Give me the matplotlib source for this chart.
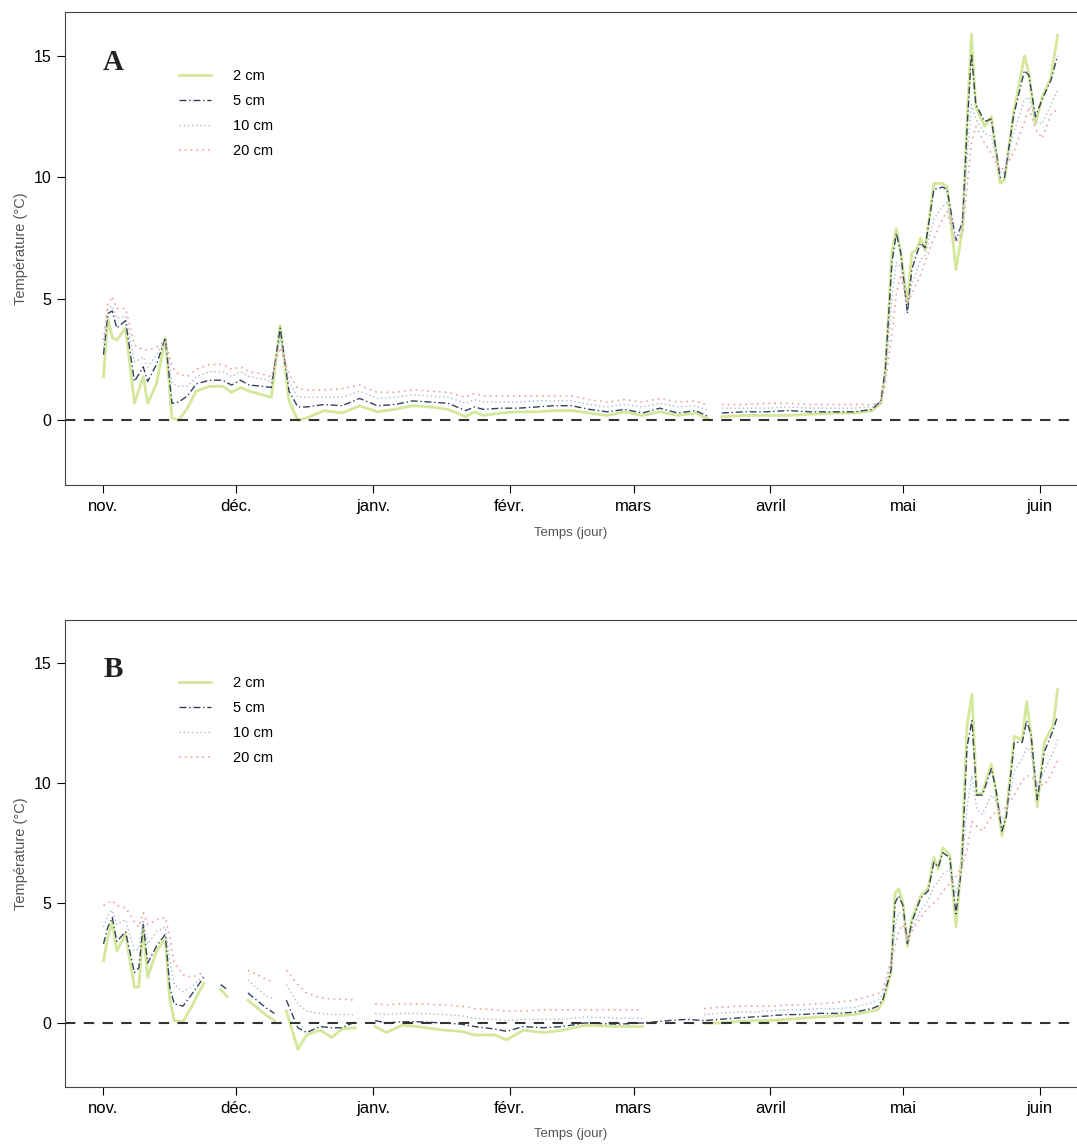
import numpy as np
import matplotlib
matplotlib.use("Agg")
import matplotlib.pyplot as plt

nan = np.nan

# Mois (jour depuis le 1er novembre)
mois_pos = [0, 30, 61, 92, 120, 151, 181, 212]
mois_noms = ['nov.', 'déc.', 'janv.', 'févr.', 'mars', 'avril', 'mai', 'juin']
profondeurs = ['2 cm', '5 cm', '10 cm', '20 cm']

# Panneau A
jours_a = [0, 1, 2, 3, 5, 7, 9, 10, 12, 14, 15.5, 17, 19, 21, 24, 27, 29, 31, 33, 36, 38,
           40, 42, 44, 46, 50, 54, 58, 62, 66, 70, 74, 78, 82, 84, 86, 90, 94, 98, 102,
           106, 110, 114, 118, 122, 126, 130, 134, 137, 138, 140, 145, 150, 155, 160,
           165, 170, 174, 176, 177, 178.5, 179.5, 180.5, 182, 183, 184, 185, 186, 188,
           190, 191, 193, 194.5, 195.5, 196.5, 197.5, 199.5, 201, 203, 204, 206, 208.5,
           209.5, 211, 212.5, 214.5, 216]
a_2cm = [1.8, 4.2, 3.4, 3.3, 3.8, 0.7, 1.8, 0.7, 1.5, 3.4, 0.1, 0.0, 0.5, 1.2, 1.4, 1.4,
         1.15, 1.35, 1.2, 1.05, 0.95, 3.9, 0.8, 0.0, 0.1, 0.4, 0.3, 0.6, 0.35, 0.45, 0.6,
         0.55, 0.45, 0.15, 0.35, 0.2, 0.3, 0.35, 0.35, 0.4, 0.4, 0.3, 0.2, 0.35, 0.2, 0.35,
         0.2, 0.3, 0.05, nan, 0.15, 0.2, 0.2, 0.2, 0.25, 0.3, 0.3, 0.4, 0.7, 2.0, 6.9, 7.9,
         6.9, 4.8, 6.9, 7.0, 7.5, 7.0, 9.75, 9.75, 9.6, 6.2, 7.9, 12.3, 15.9, 12.9, 12.1,
         12.5, 9.75, 9.9, 12.6, 15.0, 14.3, 12.2, 13.3, 14.1, 15.85]
a_5cm = [2.7, 4.4, 4.5, 3.8, 4.1, 1.6, 2.2, 1.6, 2.3, 3.4, 0.7, 0.75, 1.0, 1.5, 1.65, 1.65,
         1.45, 1.65, 1.45, 1.4, 1.35, 3.8, 1.2, 0.55, 0.55, 0.65, 0.6, 0.9, 0.6, 0.65, 0.8,
         0.75, 0.7, 0.4, 0.55, 0.45, 0.5, 0.5, 0.55, 0.6, 0.6, 0.45, 0.35, 0.45, 0.3, 0.5,
         0.3, 0.4, 0.15, nan, 0.3, 0.35, 0.35, 0.4, 0.35, 0.35, 0.35, 0.45, 0.8, 2.1, 6.5,
         7.7, 6.9, 4.4, 6.2, 6.8, 7.3, 7.1, 9.5, 9.6, 9.5, 7.4, 8.2, 12.0, 15.1, 13.0, 12.3,
         12.4, 10.0, 10.0, 12.5, 14.4, 14.2, 12.5, 13.2, 14.0, 15.0]
a_10cm = [3.0, 4.6, 4.7, 4.2, 4.3, 2.4, 2.6, 2.2, 2.7, 3.3, 1.5, 1.4, 1.4, 1.8, 2.0, 2.0,
          1.8, 2.0, 1.8, 1.7, 1.6, 3.4, 1.6, 0.95, 0.95, 0.95, 0.95, 1.2, 0.9, 0.95, 1.05,
          1.0, 0.95, 0.7, 0.85, 0.75, 0.75, 0.75, 0.8, 0.8, 0.8, 0.65, 0.55, 0.65, 0.55, 0.7,
          0.55, 0.6, 0.4, nan, 0.5, 0.5, 0.5, 0.55, 0.5, 0.5, 0.5, 0.55, 0.8, 1.8, 5.0, 6.5,
          6.3, 4.7, 5.6, 6.1, 6.6, 6.8, 8.3, 8.8, 9.0, 7.5, 8.0, 10.8, 13.0, 12.4, 11.8, 11.7,
          10.2, 10.2, 11.8, 13.2, 13.3, 12.3, 12.2, 13.0, 13.6]
a_20cm = [3.3, 4.8, 5.1, 4.6, 4.6, 3.1, 2.9, 2.9, 3.0, 3.3, 2.2, 1.9, 1.8, 2.1, 2.3, 2.3,
          2.1, 2.2, 2.0, 1.9, 1.8, 3.0, 1.9, 1.3, 1.25, 1.25, 1.3, 1.45, 1.15, 1.15, 1.25,
          1.2, 1.15, 0.95, 1.1, 1.0, 1.0, 1.0, 1.0, 1.0, 1.0, 0.85, 0.75, 0.85, 0.75, 0.9,
          0.75, 0.8, 0.6, nan, 0.65, 0.65, 0.7, 0.7, 0.65, 0.65, 0.65, 0.65, 0.7, 1.5, 3.6,
          5.2, 6.0, 4.8, 5.2, 5.6, 6.0, 6.5, 7.5, 8.3, 8.6, 7.3, 7.8, 9.6, 11.4, 12.1, 11.4,
          11.0, 10.3, 10.4, 11.0, 12.3, 12.9, 12.0, 11.6, 12.6, 12.8]

# Panneau B
jours_b = [0, 1, 2, 3, 5, 7, 8, 9, 10, 12, 14, 15, 16, 18, 20, 22.7, 24, 26.5, 28, 30,
           32.7, 35, 37, 38.7, 40, 41.4, 44, 46, 49, 51.7, 54, 57, 59, 61.5, 64, 67.6, 71,
           77, 81, 84, 88.5, 91.3, 95, 99.6, 104, 109, 116.6, 122, 125, 128, 132, 136,
           139.4, 143, 147, 151, 154.7, 158, 162, 166, 170, 174, 175.3, 176.5, 178.3, 179.2,
           180, 181, 182, 183, 185, 186.7, 188, 189, 190, 191.6, 193, 194.3, 195.5, 196.6,
           197.7, 199, 201, 202, 203.4, 204.4, 206.2, 208, 209, 210, 211.4, 213, 215, 216]
b_2cm = [2.6, 3.6, 4.2, 3.0, 3.7, 1.5, 1.5, 4.0, 1.9, 3.0, 3.5, 1.0, 0.1, 0.05, 0.7, 1.65,
         nan, 1.4, 1.1, nan, 0.95, 0.6, 0.3, 0.1, nan, 0.5, -1.1, -0.5, -0.3, -0.6, -0.25,
         -0.2, nan, -0.15, -0.4, -0.1, -0.15, -0.3, -0.35, -0.5, -0.5, -0.7, -0.3, -0.4,
         -0.3, -0.1, -0.15, -0.15, nan, nan, nan, 0.0, 0.0, 0.05, 0.1, 0.1, 0.15, 0.2, 0.25,
         0.3, 0.35, 0.5, 0.55, 0.9, 2.1, 5.4, 5.6, 5.0, 3.2, 4.3, 5.3, 5.6, 6.9, 6.4, 7.3,
         7.0, 4.0, 6.9, 12.4, 13.7, 9.5, 9.6, 10.8, 9.7, 7.8, 8.7, 11.95, 11.8, 13.4, 12.0,
         9.0, 11.7, 12.4, 13.9]
b_5cm = [3.3, 4.0, 4.4, 3.4, 3.8, 2.1, 2.3, 4.1, 2.5, 3.2, 3.7, 1.5, 0.8, 0.7, 1.2, 1.9,
         nan, 1.6, 1.4, nan, 1.25, 0.9, 0.6, 0.4, nan, 0.95, -0.2, -0.4, -0.15, -0.2, -0.2,
         0.05, nan, 0.1, 0.0, 0.05, 0.05, 0.0, -0.05, -0.15, -0.25, -0.35, -0.15, -0.2,
         -0.15, 0.0, -0.05, 0.0, 0.05, 0.1, 0.15, 0.1, 0.15, 0.2, 0.25, 0.3, 0.35, 0.35,
         0.4, 0.4, 0.45, 0.6, 0.7, 1.0, 2.2, 5.0, 5.3, 4.9, 3.3, 4.2, 5.2, 5.5, 6.7, 6.5,
         7.1, 6.9, 4.55, 6.5, 11.5, 12.6, 9.5, 9.5, 10.6, 9.8, 8.0, 8.6, 11.7, 11.7, 12.6,
         12.0, 9.3, 11.3, 12.2, 12.8]
b_10cm = [4.0, 4.5, 4.7, 4.1, 4.3, 3.0, 3.1, 4.3, 3.3, 3.8, 4.0, 2.6, 1.6, 1.3, 1.5, 2.0,
          nan, nan, nan, nan, 1.8, 1.4, 1.1, 1.0, nan, 1.6, 0.8, 0.5, 0.4, 0.35, 0.35, 0.35,
          nan, 0.4, 0.35, 0.4, 0.4, 0.35, 0.3, 0.2, 0.15, 0.1, 0.15, 0.15, 0.15, 0.25, 0.2,
          0.2, nan, nan, nan, 0.35, 0.4, 0.45, 0.45, 0.5, 0.55, 0.55, 0.6, 0.6, 0.65, 0.85,
          0.95, 1.2, 2.4, 4.0, 4.6, 4.5, 3.4, 3.9, 4.7, 5.1, 5.7, 5.9, 6.2, 6.4, 5.4, 6.4,
          9.0, 10.3, 8.9, 8.7, 9.5, 9.3, 8.5, 8.7, 10.5, 11.0, 11.5, 11.3, 9.8, 10.5, 11.3,
          11.8]
b_20cm = [4.9, 5.0, 5.1, 4.9, 4.8, 4.2, 4.0, 4.6, 4.1, 4.3, 4.4, 3.6, 2.5, 2.0, 1.9, 2.1,
          nan, nan, nan, nan, 2.2, 2.0, 1.8, 1.7, nan, 2.2, 1.6, 1.25, 1.05, 1.0, 1.0, 0.95,
          nan, 0.8, 0.75, 0.8, 0.8, 0.75, 0.7, 0.6, 0.55, 0.5, 0.5, 0.55, 0.55, 0.55, 0.55,
          0.55, nan, nan, nan, 0.6, 0.65, 0.7, 0.7, 0.7, 0.75, 0.75, 0.8, 0.85, 0.95, 1.15,
          1.2, 1.4, 2.6, 3.2, 3.8, 4.1, 3.5, 3.8, 4.4, 4.8, 5.0, 5.2, 5.5, 5.8, 6.1, 6.5,
          7.2, 8.4, 8.2, 8.0, 8.6, 8.8, 8.9, 9.0, 9.5, 10.1, 10.3, 10.3, 10.0, 9.9, 10.5,
          11.0]

# Styles des courbes
styles = [
    dict(color='#d5e79b', lw=2.0, ls='-'),
    dict(color='#34405e', lw=1.0, ls=(0, (5, 2, 1, 2))),
    dict(color='#aab8d6', lw=1.0, ls=(0, (1, 2))),
    dict(color='#e9a39a', lw=1.2, ls=(0, (1, 2.5))),
]

plt.rcParams['font.family'] = ['Liberation Sans', 'DejaVu Sans']


def tracer_panneau(ax, jours, series, lettre):
    # Courbes de température
    for serie, nom, st in zip(series, profondeurs, styles):
        ax.plot(jours, serie, label=nom, **st)
    # Ligne du zéro
    ax.axhline(0, color='#333333', lw=1.5, ls=(0, (5, 4)))

    ax.set_xlim(-8.8, 220.4)
    ax.set_ylim(-2.67, 16.8)
    ax.set_xticks(mois_pos)
    ax.set_xticklabels(mois_noms, fontsize=12)
    ax.set_yticks([0, 5, 10, 15])
    ax.tick_params(axis='y', labelsize=11.5, length=6)
    ax.tick_params(axis='x', length=6, pad=4)
    ax.spines['right'].set_visible(False)
    for s in ['left', 'bottom', 'top']:
        ax.spines[s].set_color('#444444')

    ax.set_xlabel('Temps (jour)', fontsize=9.5, color='#555555', labelpad=9)
    ax.set_ylabel('Température (°C)', fontsize=10.5, color='#555555', labelpad=4)

    ax.text(0.038, 0.877, lettre, transform=ax.transAxes, fontsize=21,
            fontweight='bold', family='Liberation Serif', color='#222222',
            va='baseline')

    ax.legend(loc='upper left', bbox_to_anchor=(0.113, 0.88), frameon=False,
              fontsize=10.5, handlelength=2.2, handletextpad=1.5,
              labelspacing=0.75, borderpad=0, borderaxespad=0)


fig = plt.figure(figsize=(10.77, 11.47), dpi=100)
ax_a = fig.add_axes([0.060, 0.577, 0.940, 0.4124])
ax_b = fig.add_axes([0.060, 0.0523, 0.940, 0.4072])

tracer_panneau(ax_a, jours_a, [a_2cm, a_5cm, a_10cm, a_20cm], 'A')
tracer_panneau(ax_b, jours_b, [b_2cm, b_5cm, b_10cm, b_20cm], 'B')

fig.savefig('out.png', dpi=100)
